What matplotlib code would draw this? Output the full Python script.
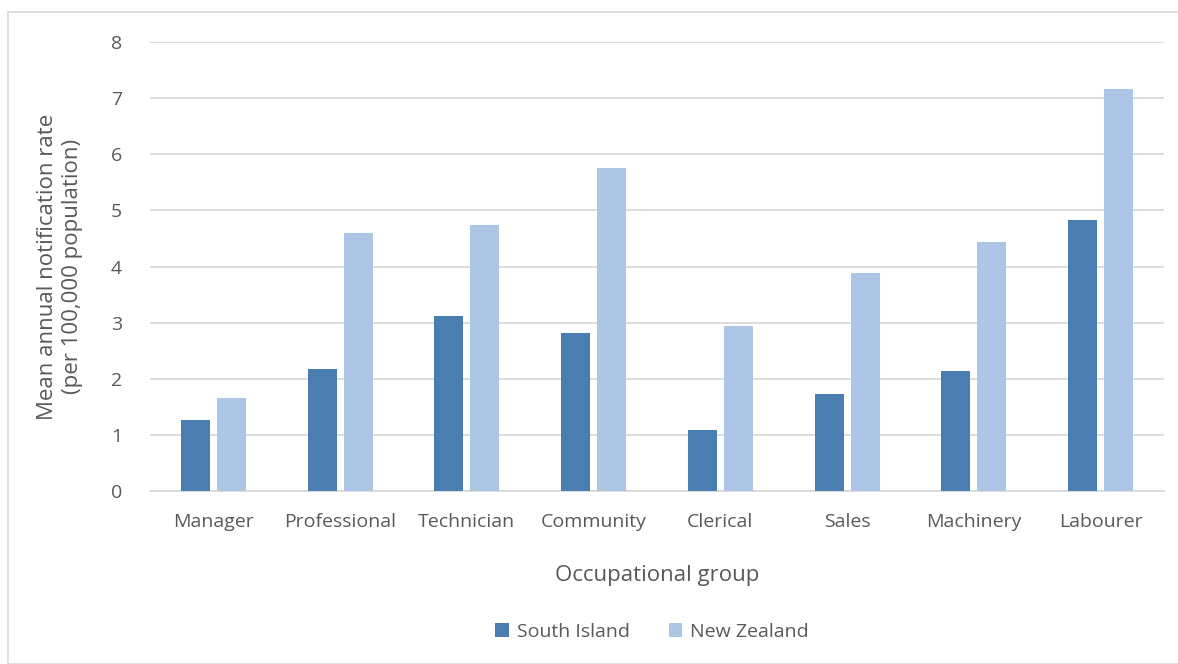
import matplotlib.pyplot as plt
import numpy as np
from matplotlib.patches import Rectangle

plt.rcParams['font.family'] = ['Open Sans', 'DejaVu Sans']

# data
groups = ['Manager', 'Professional', 'Technician', 'Community',
          'Clerical', 'Sales', 'Machinery', 'Labourer']
south_island = [1.27, 2.17, 3.12, 2.81, 1.09, 1.73, 2.13, 4.83]
new_zealand = [1.66, 4.60, 4.74, 5.76, 2.94, 3.88, 4.43, 7.16]

text_col = '#595959'
dark = '#4a7eb0'
light = '#adc6e5'

fig = plt.figure(figsize=(11.78, 6.64), dpi=100)
ax = fig.add_axes([150/1178, 1 - 491/664, 1014/1178, 449/664])

x = np.arange(len(groups))
w = 0.23
ax.bar(x - 0.142, south_island, w, color=dark, label='South Island', zorder=3)
ax.bar(x + 0.142, new_zealand, w, color=light, label='New Zealand', zorder=3)

ax.set_xlim(-0.5, len(groups) - 0.5)
ax.set_ylim(0, 8)
ax.set_yticks(range(0, 9))
ax.set_xticks(x)
ax.set_xticklabels(groups)
ax.grid(axis='y', color='#d9d9d9', linewidth=1.3, zorder=0)
for s in ['top', 'right', 'left']:
    ax.spines[s].set_visible(False)
ax.spines['bottom'].set_color('#d9d9d9')
ax.spines['bottom'].set_linewidth(1.3)
ax.tick_params(axis='both', length=0, labelsize=14, colors=text_col)
ax.tick_params(axis='x', pad=16)
ax.tick_params(axis='y', pad=20)

ax.set_xlabel('Occupational group', fontsize=16, color=text_col, labelpad=24)
ax.set_ylabel('Mean annual notification rate\n(per 100,000 population)',
              fontsize=16, color=text_col, labelpad=20, linespacing=1.25)

ax.legend(loc='center', bbox_to_anchor=(652/1178, 1 - 632/664),
          bbox_transform=fig.transFigure, ncol=2, frameon=False,
          fontsize=14, labelcolor=text_col, handlelength=0.7, handleheight=0.7,
          columnspacing=2.0, handletextpad=0.4)

fig.patches.append(Rectangle((8/1178, 0), 1.2, 1 - 12/664,
                             transform=fig.transFigure, fill=False,
                             edgecolor='#d9d9d9', linewidth=1.2))

fig.savefig('out.png', dpi=100)
